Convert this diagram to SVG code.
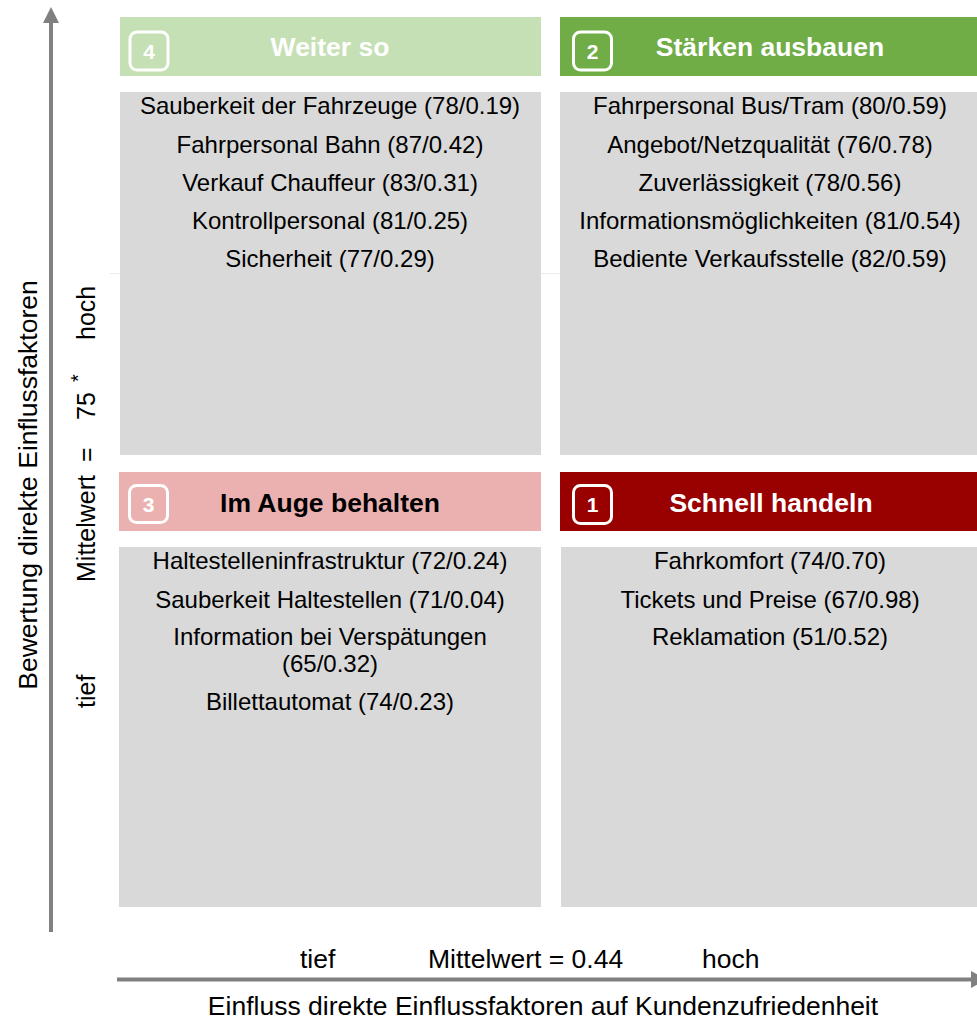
<svg xmlns="http://www.w3.org/2000/svg" width="977" height="1021" viewBox="0 0 977 1021">
<defs>
<style>
text{font-family:"Liberation Sans",Arial,sans-serif;fill:#000}
.item{font-size:24px;text-anchor:middle}
.title{font-size:26.5px;font-weight:bold;text-anchor:middle}
.num{font-size:21px;font-weight:bold;fill:#fff;text-anchor:middle}
.badge{fill:none;stroke:#fff;stroke-width:3}
.box{fill:#d9d9d9}
.axis{stroke:#808080;stroke-width:4;fill:none}
.lbl{font-size:25px}
.big{font-size:26.5px}
</style>
</defs>
<rect width="977" height="1021" fill="#fff"/>
<line x1="110" y1="273.5" x2="560" y2="273.5" stroke="#ececec" stroke-width="1"/>

<g id="connectors">
<line class="axis" x1="51" y1="932" x2="51" y2="22"/>
<polygon points="51,7 43,23 59,23" fill="#808080"/>
<line class="axis" x1="117" y1="979.5" x2="972" y2="979.5"/>
<polygon points="971,971 987,979.5 971,988" fill="#808080"/>
</g>

<g id="q4">
<rect x="120" y="17" width="421" height="59" fill="#c5e0b4"/>
<rect class="badge" x="130" y="32" width="38" height="38" rx="7"/>
<text class="num" x="149" y="59">4</text>
<text class="title" x="330" y="56" style="fill:#fff">Weiter so</text>
<rect class="box" x="120" y="92" width="421" height="363"/>
<text class="item" x="330" y="114">Sauberkeit der Fahrzeuge (78/0.19)</text>
<text class="item" x="330" y="152.5">Fahrpersonal Bahn (87/0.42)</text>
<text class="item" x="330" y="191">Verkauf Chauffeur (83/0.31)</text>
<text class="item" x="330" y="229">Kontrollpersonal (81/0.25)</text>
<text class="item" x="330" y="267">Sicherheit (77/0.29)</text>
</g>

<g id="q2">
<rect x="560" y="17" width="417" height="59" fill="#70ad47"/>
<rect class="badge" x="573.5" y="32" width="38" height="38" rx="7"/>
<text class="num" x="592.5" y="59">2</text>
<text class="title" x="770" y="56" style="fill:#fff">Stärken ausbauen</text>
<rect class="box" x="560" y="92" width="417" height="363"/>
<text class="item" x="770" y="114">Fahrpersonal Bus/Tram (80/0.59)</text>
<text class="item" x="770" y="152.5">Angebot/Netzqualität (76/0.78)</text>
<text class="item" x="770" y="191">Zuverlässigkeit (78/0.56)</text>
<text class="item" x="770" y="229">Informationsmöglichkeiten (81/0.54)</text>
<text class="item" x="770" y="267">Bediente Verkaufsstelle (82/0.59)</text>
</g>

<g id="q3">
<rect x="119" y="472" width="422" height="59" fill="#ebb1b1"/>
<rect class="badge" x="129.5" y="485.5" width="38" height="37" rx="7"/>
<text class="num" x="148.5" y="512">3</text>
<text class="title" x="330" y="512">Im Auge behalten</text>
<rect class="box" x="119" y="547" width="422" height="360"/>
<text class="item" x="330" y="569">Haltestelleninfrastruktur (72/0.24)</text>
<text class="item" x="330" y="608">Sauberkeit Haltestellen (71/0.04)</text>
<text class="item" x="330" y="645">Information bei Verspätungen</text>
<text class="item" x="330" y="672">(65/0.32)</text>
<text class="item" x="330" y="710">Billettautomat (74/0.23)</text>
</g>

<g id="q1">
<rect x="560" y="472" width="417" height="59" fill="#990000"/>
<rect class="badge" x="573.5" y="485.5" width="38" height="38" rx="7"/>
<text class="num" x="592.5" y="512">1</text>
<text class="title" x="771" y="512" style="fill:#fff">Schnell handeln</text>
<rect class="box" x="561" y="547" width="416" height="360"/>
<text class="item" x="770" y="569">Fahrkomfort (74/0.70)</text>
<text class="item" x="770" y="608">Tickets und Preise (67/0.98)</text>
<text class="item" x="770" y="645">Reklamation (51/0.52)</text>
</g>

<g id="y-axis-labels">
<text class="big" transform="translate(37,485) rotate(-90)" text-anchor="middle" font-size="26.8">Bewertung direkte Einflussfaktoren</text>
<text class="lbl" transform="translate(95,582) rotate(-90)">Mittelwert<tspan x="120">=</tspan><tspan x="162">75</tspan><tspan x="200" dy="-10" font-size="20">*</tspan></text>
<text class="lbl" transform="translate(95,340) rotate(-90)">hoch</text>
<text class="lbl" transform="translate(95,708) rotate(-90)">tief</text>
</g>

<g id="x-axis-labels">
<text class="big" x="300" y="968">tief</text>
<text class="big" x="428" y="968">Mittelwert = 0.44</text>
<text class="big" x="702" y="968">hoch</text>
<text class="big" x="543" y="1015" text-anchor="middle" font-size="26.8">Einfluss direkte Einflussfaktoren auf Kundenzufriedenheit</text>
</g>
</svg>
